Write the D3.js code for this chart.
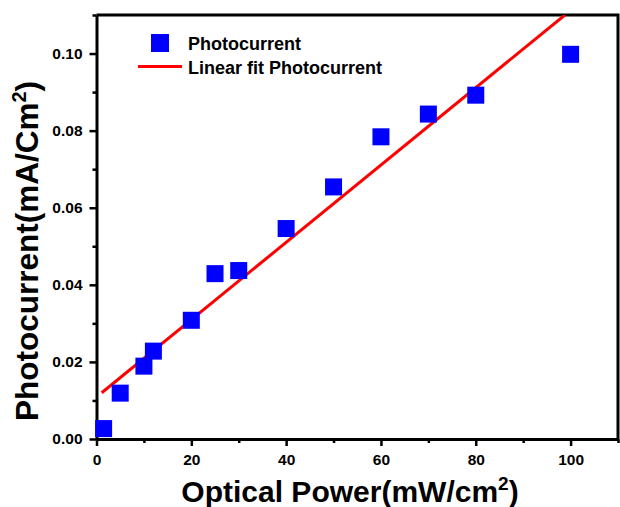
<!DOCTYPE html>
<html>
<head>
<meta charset="utf-8">
<script src="https://cdn.jsdelivr.net/npm/d3@7"></script>
<style>
  body { margin: 0; background: #fff; }
  text { font-family: "Liberation Sans", Arial, sans-serif; font-weight: bold; fill: #000; }
</style>
</head>
<body>
<div id="chart"></div>
<script>
var svgWidth = 620;
var svgHeight = 507;

var margin = { top: 15, right: 2, bottom: 68, left: 96.5 };
var chartWidth = svgWidth - margin.left - margin.right;
var chartHeight = svgHeight - margin.top - margin.bottom;

// measured points
var power = [1.5, 5, 10, 12, 20, 25, 30, 40, 50, 60, 70, 80, 100];
var photocurrent = [0.0027, 0.0119, 0.0189, 0.0228, 0.0308, 0.0429, 0.0437, 0.0546, 0.0654, 0.0784, 0.0843, 0.0892, 0.0998];

// linear fit end points
var fitX = [1.1, 98.8];
var fitY = [0.0120, 0.110];

var xTicks = [0, 20, 40, 60, 80, 100];
var yTicks = [0, 0.02, 0.04, 0.06, 0.08, 0.10];
var xMinor = [10, 30, 50, 70, 90, 110];
var yMinor = [0.01, 0.03, 0.05, 0.07, 0.09, 0.11];

var svg = d3.select("#chart")
  .append("svg")
  .attr("width", svgWidth)
  .attr("height", svgHeight);

var chartGroup = svg.append("g")
  .attr("transform", `translate(${margin.left},${margin.top})`);

var x = d3.scaleLinear().domain([0, 110]).range([0, chartWidth]);
var y = d3.scaleLinear().domain([0, 0.11]).range([chartHeight, 0]);

// minor ticks
chartGroup.append("g")
  .attr("transform", `translate(0, ${chartHeight})`)
  .call(d3.axisBottom(x).tickValues(xMinor).tickSize(4).tickFormat(""))
  .call(g => g.select(".domain").remove())
  .selectAll("line").attr("stroke-width", 2.5);
chartGroup.append("g")
  .call(d3.axisLeft(y).tickValues(yMinor).tickSize(4).tickFormat(""))
  .call(g => g.select(".domain").remove())
  .selectAll("line").attr("stroke-width", 2.5);

// major axes
var xAxis = chartGroup.append("g")
  .attr("transform", `translate(0, ${chartHeight})`)
  .call(d3.axisBottom(x).tickValues(xTicks).tickSize(7).tickSizeOuter(0).tickPadding(8).tickFormat(d3.format("d")));
var yAxis = chartGroup.append("g")
  .call(d3.axisLeft(y).tickValues(yTicks).tickSize(7).tickSizeOuter(0).tickPadding(7).tickFormat(d3.format(".2f")));

[xAxis, yAxis].forEach(function(g) {
  g.selectAll("line").attr("stroke-width", 2.5);
  g.select(".domain").attr("stroke-width", 3);
  g.selectAll("text").attr("font-size", 15.5).attr("font-family", "Liberation Sans, Arial, sans-serif").attr("font-weight", "bold");
});

// frame top/right
chartGroup.append("path")
  .attr("d", `M0,0H${chartWidth}V${chartHeight}`)
  .attr("fill", "none")
  .attr("stroke", "#000")
  .attr("stroke-width", 3);

chartGroup.append("clipPath").attr("id", "clip")
  .append("rect").attr("width", chartWidth).attr("height", chartHeight);

// fit line
chartGroup.append("line")
  .attr("clip-path", "url(#clip)")
  .attr("x1", x(fitX[0])).attr("y1", y(fitY[0]))
  .attr("x2", x(fitX[1])).attr("y2", y(fitY[1]))
  .attr("stroke", "#ff0000")
  .attr("stroke-width", 3);

// points
var sq = 17;
chartGroup.append("g").selectAll("rect")
  .data(power)
  .enter()
  .append("rect")
  .attr("x", function(d) { return x(d) - sq / 2; })
  .attr("y", function(d, i) { return y(photocurrent[i]) - sq / 2; })
  .attr("width", sq)
  .attr("height", sq)
  .attr("fill", "#0000ff");

// legend
svg.append("rect")
  .attr("x", 151).attr("y", 34).attr("width", 18).attr("height", 18)
  .attr("fill", "#0000ff");
svg.append("text")
  .attr("x", 188).attr("y", 50)
  .attr("font-size", 18)
  .text("Photocurrent");
svg.append("line")
  .attr("x1", 138).attr("x2", 182).attr("y1", 66.5).attr("y2", 66.5)
  .attr("stroke", "#ff0000").attr("stroke-width", 3);
svg.append("text")
  .attr("x", 188).attr("y", 73.5)
  .attr("font-size", 18)
  .text("Linear fit Photocurrent");

// axis titles
var xt = svg.append("text")
  .attr("x", 350)
  .attr("y", 502)
  .attr("text-anchor", "middle")
  .attr("font-size", 30);
xt.append("tspan").text("Optical Power(mW/cm");
xt.append("tspan").attr("font-size", 19).attr("dy", -12).text("2");
xt.append("tspan").attr("dy", 12).text(")");

var yt = svg.append("text")
  .attr("transform", "translate(38,251) rotate(-90)")
  .attr("text-anchor", "middle")
  .attr("font-size", 31.5);
yt.append("tspan").text("Photocurrent(mA/Cm");
yt.append("tspan").attr("font-size", 20).attr("dy", -12).text("2");
yt.append("tspan").attr("dy", 12).text(")");
</script>
</body>
</html>
